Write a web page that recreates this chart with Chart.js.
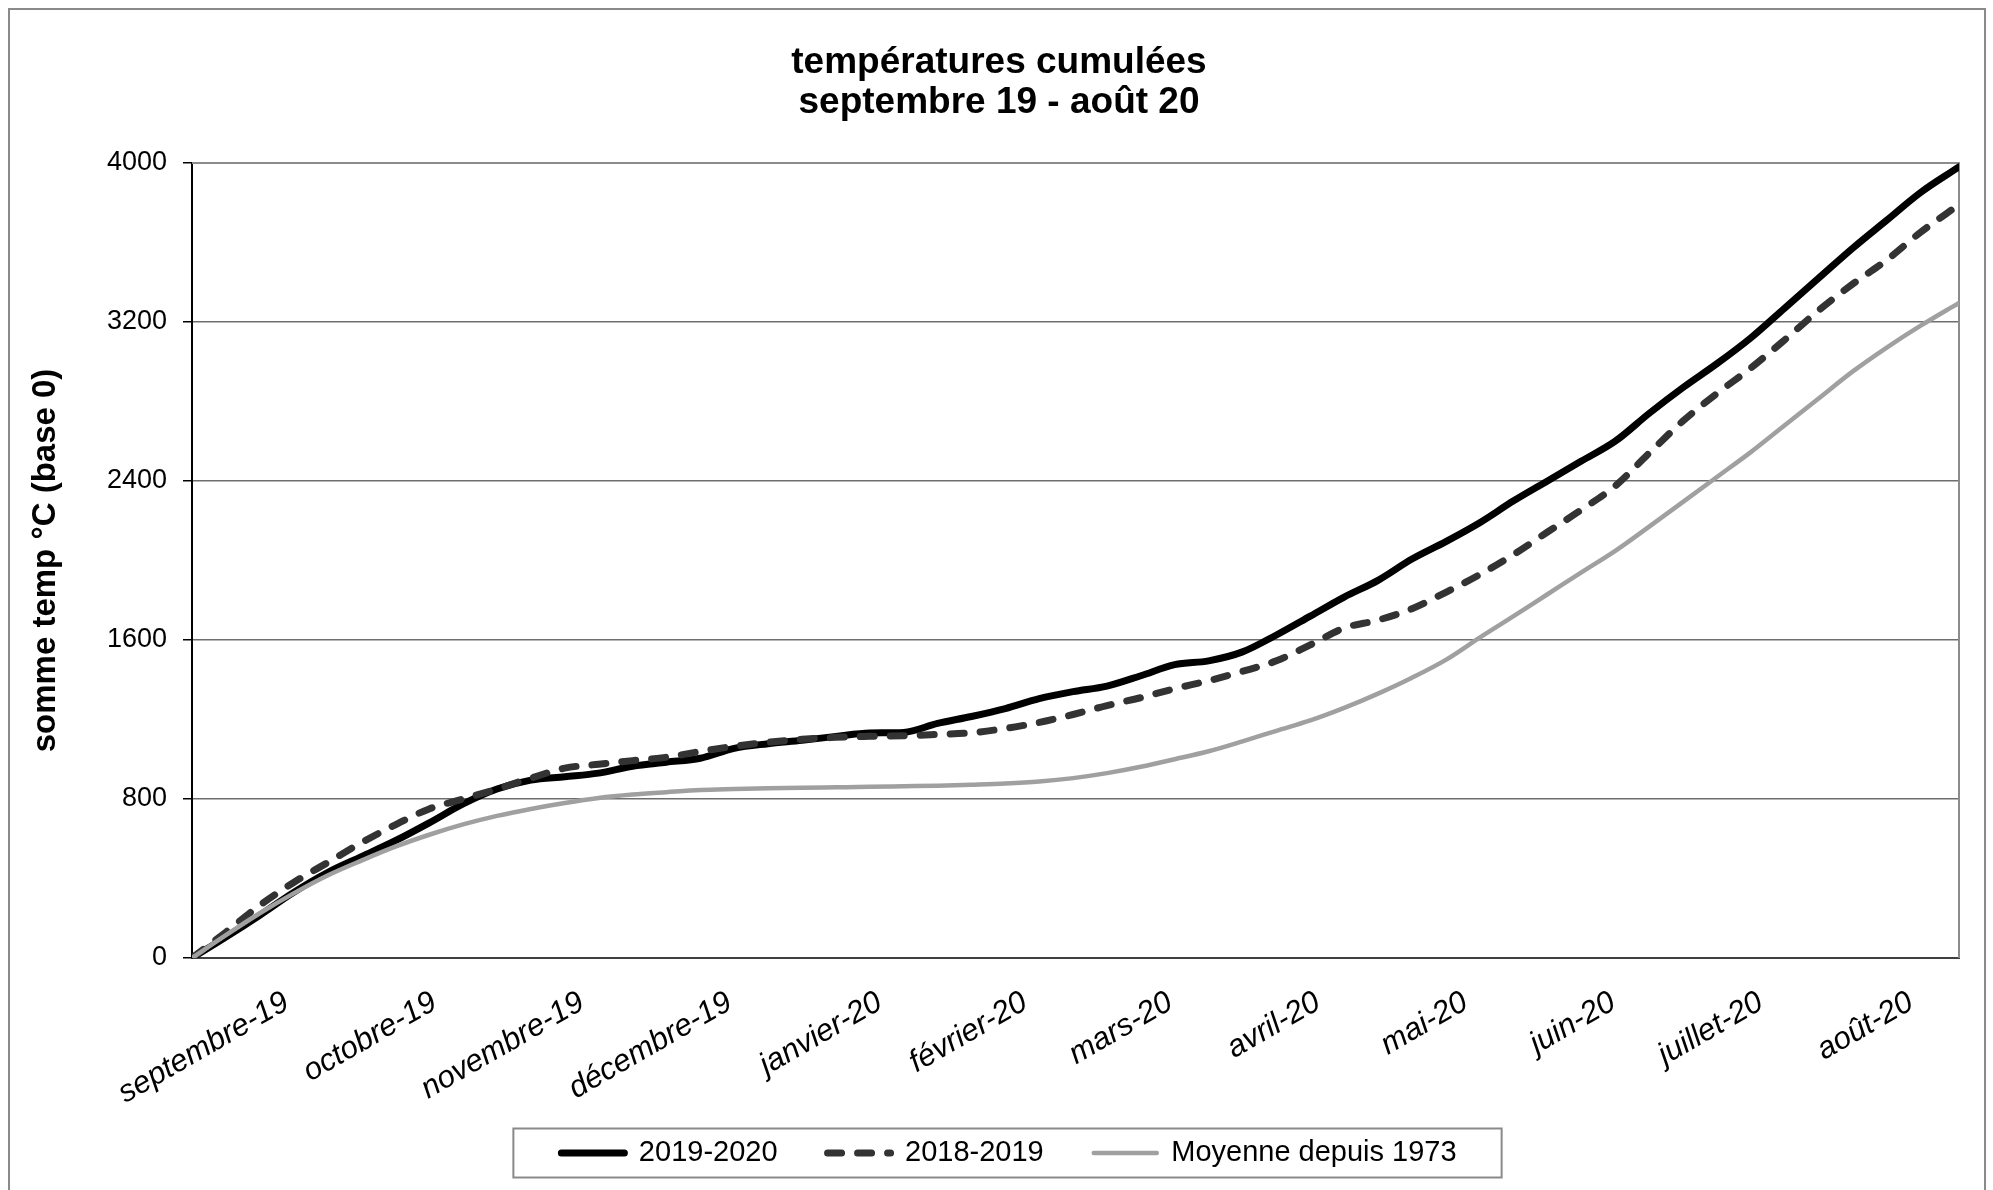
<!DOCTYPE html>
<html>
<head>
<meta charset="utf-8">
<script src="https://cdn.jsdelivr.net/npm/chart.js@4/dist/chart.umd.min.js"></script>
<style>
html,body{margin:0;padding:0;background:#fff;}
#wrap{width:1993px;height:1190px;position:relative;}
</style>
</head>
<body>
<div id="wrap"><canvas id="c" width="1993" height="1190"></canvas></div>
<script>
// Day index (0 = 1 September) of each sample
const DAYS = [0,7,14,21,28,35,42,49,56,63,70,77,84,91,98,105,112,119,126,133,140,147,154,161,168,175,182,189,196,203,210,217,224,231,238,245,252,259,266,273,280,287,294,301,308,315,322,329,336,343,350,357,365];
const SERIES_NAMES = ['2019-2020', '2018-2019', 'Moyenne depuis 1973'];
const S2019_2020 = [0,105,215,330,430,510,590,680,775,850,895,912,930,965,985,1005,1055,1078,1095,1115,1132,1135,1180,1215,1255,1305,1340,1368,1420,1476,1495,1540,1625,1720,1816,1900,2007,2095,2190,2300,2400,2500,2600,2740,2870,2990,3120,3270,3420,3570,3710,3850,3980];
const S2018_2019 = [0,130,265,380,480,580,670,750,800,850,905,955,975,993,1010,1039,1065,1085,1100,1110,1115,1118,1125,1133,1155,1185,1225,1270,1310,1355,1395,1442,1495,1575,1660,1700,1757,1840,1929,2030,2143,2255,2375,2540,2702,2840,2968,3110,3258,3390,3510,3650,3790];
const MOYENNE = [0,115,225,325,415,490,560,620,672,715,750,780,805,822,834,845,850,854,857,859,861,864,867,872,878,888,905,930,962,1000,1040,1090,1143,1195,1258,1330,1410,1500,1612,1720,1830,1940,2048,2170,2295,2420,2545,2680,2815,2950,3070,3180,3296];
const MONTH_LABELS = ['septembre-19','octobre-19','novembre-19','décembre-19','janvier-20','février-20','mars-20','avril-20','mai-20','juin-20','juillet-20','août-20'];
const MONTH_MID = [15,45.5,76,106.5,137.5,167.5,197.5,228,258.5,289,319.5,350.5];
const Y_TICKS = [0,800,1600,2400,3200,4000];
const TITLE_LINES = ['températures cumulées','septembre 19 - août 20'];
const Y_TITLE = 'somme temp °C (base 0)';

const FONT = "'Liberation Sans', Arial, sans-serif";
const pts = arr => DAYS.map((d,i)=>({x:d, y:arr[i]}));

const bgPlugin = {
  id:'bg',
  afterLayout(chart){
    // let rotated x labels extend into the legend band (no clipping), nudge legend right
    const x = chart.scales.x; if (x) { x.bottom = x.top + 175; }
    const lg = chart.legend; if (lg) { lg.left += 10; lg.right += 10; }
  },
  beforeDraw(chart){
    const c = chart.ctx;
    c.save(); c.fillStyle='#fff'; c.fillRect(0,0,chart.width,chart.height);
    c.strokeStyle='#8a8a8a'; c.lineWidth=2; c.strokeRect(9,9,1976,1200);
    c.restore();
  },
  beforeDatasetsDraw(chart){
    const a = chart.chartArea, c = chart.ctx;
    c.save(); c.strokeStyle='#8c8c8c'; c.lineWidth=2;
    c.beginPath(); c.moveTo(a.left,a.top); c.lineTo(a.right,a.top); c.lineTo(a.right,a.bottom); c.stroke();
    c.restore();
  },
  afterDraw(chart){
    const lg = chart.legend; if(!lg || !lg.legendHitBoxes || !lg.legendHitBoxes.length) return;
    const hb = lg.legendHitBoxes, first = hb[0], last = hb[hb.length-1];
    const cy = first.top + first.height/2;
    const c = chart.ctx;
    c.save(); c.strokeStyle='#8a8a8a'; c.lineWidth=2;
    const l = first.left - 48, r = last.left + last.width + 45;
    c.strokeRect(l, cy-24.5, r-l, 49);
    c.restore();
  }
};

new Chart(document.getElementById('c'), {
  type:'line',
  data:{
    datasets:[
      {label:SERIES_NAMES[0], data:pts(S2019_2020), borderColor:'#000', backgroundColor:'#000', borderWidth:7, pointRadius:0, order:3, cubicInterpolationMode:'monotone', borderCapStyle:'round', borderJoinStyle:'round'},
      {label:SERIES_NAMES[1], data:pts(S2018_2019), borderColor:'#333333', backgroundColor:'#333333', borderWidth:7, borderDash:[14,16], borderCapStyle:'round', pointRadius:0, order:2, cubicInterpolationMode:'monotone'},
      {label:SERIES_NAMES[2], data:pts(MOYENNE), borderColor:'#a0a0a0', backgroundColor:'#a0a0a0', borderWidth:4.5, pointRadius:0, order:1, cubicInterpolationMode:'monotone'}
    ]
  },
  options:{
    responsive:false, animation:false, devicePixelRatio:1,
    layout:{padding:{left:39,right:34,top:0,bottom:12.5}},
    plugins:{
      tooltip:{enabled:false},
      title:{display:true, text:TITLE_LINES, color:'#000', font:{family:FONT, size:37, weight:'bold', lineHeight:1.08}, padding:{top:42.5,bottom:40.5}},
      legend:{
        display:true, position:'bottom',
        labels:{
          usePointStyle:true, pointStyle:'line', pointStyleWidth:63, boxHeight:6, padding:50,
          color:'#000', font:{family:FONT, size:29},
          sort:(a,b)=>a.datasetIndex-b.datasetIndex,
          generateLabels(chart){
            return chart.data.datasets.map((ds,i)=>({
              text:ds.label, datasetIndex:i, pointStyle:'line',
              strokeStyle:ds.borderColor, fillStyle:ds.borderColor,
              lineWidth:ds.borderWidth, lineDash:ds.borderDash||[], lineCap:'round',
              hidden:false, fontColor:'#000'
            }));
          }
        }
      }
    },
    scales:{
      x:{
        type:'linear', min:0, max:365,
        afterBuildTicks(scale){ scale.ticks = MONTH_MID.map(v=>({value:v})); },
        afterFit(scale){ scale.height = 130.5; },
        grid:{display:false, drawTicks:false},
        border:{display:true, color:'#404040', width:2},
        ticks:{autoSkip:false, minRotation:30, maxRotation:30, padding:26, labelOffset:22,
          color:'#000', font:{family:FONT, size:31, style:'italic'},
          callback:(v,i)=>MONTH_LABELS[i]}
      },
      y:{
        min:0, max:4000,
        afterBuildTicks(scale){ scale.ticks = Y_TICKS.map(v=>({value:v})); },
        afterFit(scale){ scale.width = 153; },
        grid:{color:'#6e6e6e', lineWidth:1.5, tickLength:9, tickColor:'#000', drawTicks:true},
        border:{display:true, color:'#000', width:2},
        ticks:{padding:16, color:'#000', font:{family:FONT, size:27}, callback:v=>String(v)},
        title:{display:true, text:Y_TITLE, color:'#000', font:{family:FONT, size:33, weight:'bold'}, padding:{top:-13,bottom:0}}
      }
    }
  },
  plugins:[bgPlugin]
});
</script>
</body>
</html>
